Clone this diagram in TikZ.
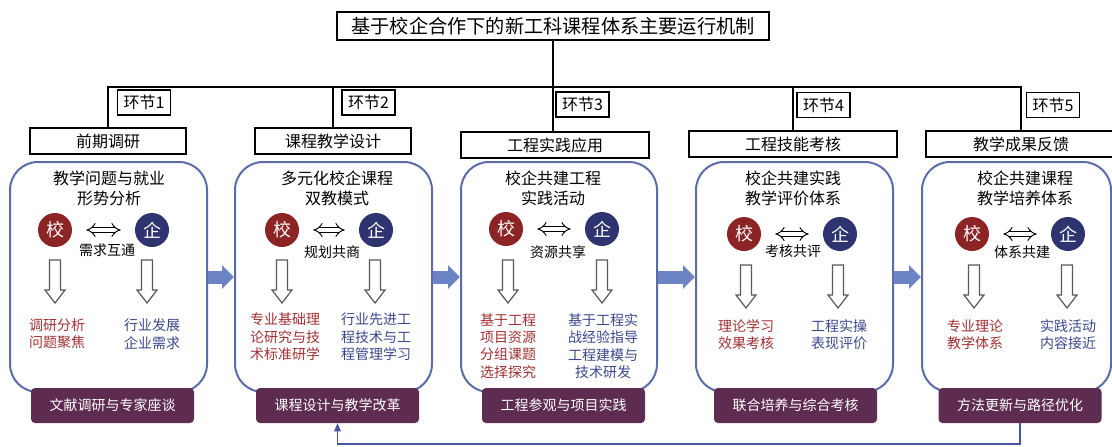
\documentclass[tikz,border=0pt]{standalone}
\usepackage{fontspec}
\setmainfont{Noto Sans CJK SC}
\usetikzlibrary{arrows.meta}
\definecolor{panelblue}{RGB}{92,108,170}
\definecolor{flowblue}{RGB}{108,132,196}
\definecolor{schoolred}{RGB}{140,36,38}
\definecolor{firmblue}{RGB}{46,52,112}
\definecolor{notered}{RGB}{160,48,50}
\definecolor{noteblue}{RGB}{58,72,140}
\definecolor{plum}{RGB}{94,44,80}
\definecolor{backblue}{RGB}{70,86,158}
\tikzset{
    headbox/.style={draw, line width=1.5pt, fill=white, minimum width=324pt, minimum height=21pt, inner sep=0pt, font=\fontsize{14.4pt}{17pt}\selectfont},
    phasebox/.style={draw, line width=1.5pt, fill=white, minimum height=19.5pt, inner sep=0pt, font=\fontsize{12pt}{14pt}\selectfont},
    tagbox/.style={draw, line width=1.2pt, fill=white, minimum width=40pt, minimum height=18.75pt, inner sep=0pt, font=\fontsize{12pt}{14pt}\selectfont},
    panel/.style={draw=panelblue, line width=1.5pt, rounded corners=21pt, minimum height=172.5pt, minimum width=147.75pt},
    panelhead/.style={align=center, font=\fontsize{12pt}{15pt}\selectfont},
    school/.style={circle, fill=schoolred, text=white, minimum size=25.5pt, inner sep=0pt, font=\fontsize{13.5pt}{15pt}\selectfont},
    firm/.style={school, fill=firmblue},
    linklabel/.style={inner sep=0pt, font=\fontsize{10.5pt}{12pt}\selectfont},
    note/.style={align=center, inner sep=0pt, font=\fontsize{10.5pt}{13pt}\selectfont},
    method/.style={fill=plum, text=white, rounded corners=3pt, minimum width=122.25pt, minimum height=26.25pt, inner sep=0pt, font=\fontsize{10.5pt}{12pt}\selectfont},
    treeline/.style={line width=1.2pt},
    mutual/.style={double, double distance=3pt, line width=0.7pt, {Implies}-{Implies}, shorten <=10.5pt, shorten >=10.5pt},
    flow/.style={flowblue, line width=9.75pt, -{Triangle[length=9pt, width=17.25pt]}},
    hollowdown/.pic={\draw[draw=black!65, line width=0.9pt, fill=white] (-5.5,0) -- (-5.5,30) -- (-10,30) -- (0,43) -- (10,30) -- (5.5,30) -- (5.5,0) -- cycle;}
}

\begin{document}
\begin{tikzpicture}[x=0.75pt, y=-0.75pt]
    \useasboundingbox (0,0) rectangle (1112,446);

    \node[headbox] (title) at (553,26) {基于校企合作下的新工科课程体系主要运行机制};
    \node[phasebox, minimum width=117pt] (ph1) at (108,141) {前期调研};
    \node[phasebox, minimum width=117pt] (ph2) at (333,141) {课程教学设计};
    \node[phasebox, minimum width=141pt] (ph3) at (555,145) {工程实践应用};
    \node[phasebox, minimum width=156pt] (ph4) at (793,144) {工程技能考核};
    \node[phasebox, minimum width=142.5pt] (ph5) at (1021,144) {教学成果反馈};

    \coordinate (bus) at (0,87);
    \draw[treeline] (title.south) -- (title.south |- ph3.north);
    \draw[treeline] (ph1.north) |- (bus -| ph5.north) -- (ph5.north);
    \draw[treeline] (ph2.north) -- (ph2.north |- bus);
    \draw[treeline] (ph4.north) -- (ph4.north |- bus);

    \node[tagbox] (t1) at (144,102.5) {环节1};
    \node[tagbox] (t2) at (368.5,102.5) {环节2};
    \node[tagbox] (t3) at (582.5,104.5) {环节3};
    \node[tagbox] (t4) at (823.5,105) {环节4};
    \node[tagbox] (t5) at (1053,105) {环节5};

    \node[panel] (p1) at (108.5,277) {};
    \node[panel] (p2) at (333.5,277) {};
    \node[panel, minimum width=147pt] (p3) at (559,277) {};
    \node[panel] (p4) at (794.5,277) {};
    \node[panel, minimum width=141.75pt] (p5) at (1016.5,277) {};

    \node[method] (l1) at (112.5,405.5) {文献调研与专家座谈};
    \node[method] (l2) at (337.5,405.5) {课程设计与教学改革};
    \node[method] (l3) at (563.5,405.5) {工程参观与项目实践};
    \node[method] (l4) at (795.5,405.5) {联合培养与综合考核};
    \node[method] (l5) at (1020,405.5) {方法更新与路径优化};

    \draw[flow] (p1.east) -- (p2.west);
    \draw[flow] (p2.east) -- (p3.west);
    \draw[flow] (p3.east) -- (p4.west);
    \draw[flow] (p4.east) -- (p5.west);

    \coordinate (fb) at (0,444);
    \draw[backblue, line width=1.1pt, -{Triangle[length=6pt, width=5pt]}] (l5.south) -- (l5.south |- fb) -| (l2.south);

    \node[panelhead] (h1) at (109,188) {教学问题与就业\\形势分析};
    \node[school] (s1) at (55,230) {校};
    \node[firm] (f1) at (152,230) {企};
    \draw[mutual] (s1) -- (f1);
    \node[linklabel] (k1) at (107,250) {需求互通};
    \pic (a1) at (55,260) {hollowdown};
    \pic (b1) at (147,260) {hollowdown};
    \node[note, text=notered] (r1) at (57,334) {调研分析\\问题聚焦};
    \node[note, text=noteblue] (q1) at (152,334) {行业发展\\企业需求};

    \node[panelhead] (h2) at (337,188) {多元化校企课程\\双教模式};
    \node[school] (s2) at (282,230) {校};
    \node[firm] (f2) at (376,230) {企};
    \draw[mutual] (s2) -- (f2);
    \node[linklabel] (k2) at (332,252) {规划共商};
    \pic (a2) at (282,260) {hollowdown};
    \pic (b2) at (375,260) {hollowdown};
    \node[note, text=notered] (r2) at (285,337) {专业基础理\\论研究与技\\术标准研学};
    \node[note, text=noteblue] (q2) at (376,337) {行业先进工\\程技术与工\\程管理学习};

    \node[panelhead] (h3) at (553,188) {校企共建工程\\实践活动};
    \node[school] (s3) at (506,229) {校};
    \node[firm] (f3) at (602,229) {企};
    \draw[mutual] (s3) -- (f3);
    \node[linklabel] (k3) at (558,252) {资源共享};
    \pic (a3) at (508,260) {hollowdown};
    \pic (b3) at (602,260) {hollowdown};
    \node[note, text=notered] (r3) at (508,346) {基于工程\\项目资源\\分组课题\\选择探究};
    \node[note, text=noteblue] (q3) at (603,346) {基于工程实\\战经验指导\\工程建模与\\技术研发};

    \node[panelhead] (h4) at (793,188) {校企共建实践\\教学评价体系};
    \node[school] (s4) at (744,234) {校};
    \node[firm] (f4) at (840,234) {企};
    \draw[mutual] (s4) -- (f4);
    \node[linklabel] (k4) at (793,251) {考核共评};
    \pic (a4) at (746,265) {hollowdown};
    \pic (b4) at (838,265) {hollowdown};
    \node[note, text=notered] (r4) at (746,334.5) {理论学习\\效果考核};
    \node[note, text=noteblue] (q4) at (839,334.5) {工程实操\\表现评价};

    \node[panelhead] (h5) at (1025,188) {校企共建课程\\教学培养体系};
    \node[school] (s5) at (972,234) {校};
    \node[firm] (f5) at (1068,234) {企};
    \draw[mutual] (s5) -- (f5);
    \node[linklabel] (k5) at (1022,252) {体系共建};
    \pic (a5) at (974,265) {hollowdown};
    \pic (b5) at (1067,265) {hollowdown};
    \node[note, text=notered] (r5) at (975,334.5) {专业理论\\教学体系};
    \node[note, text=noteblue] (q5) at (1068,334.5) {实践活动\\内容接近};
\end{tikzpicture}
\end{document}
